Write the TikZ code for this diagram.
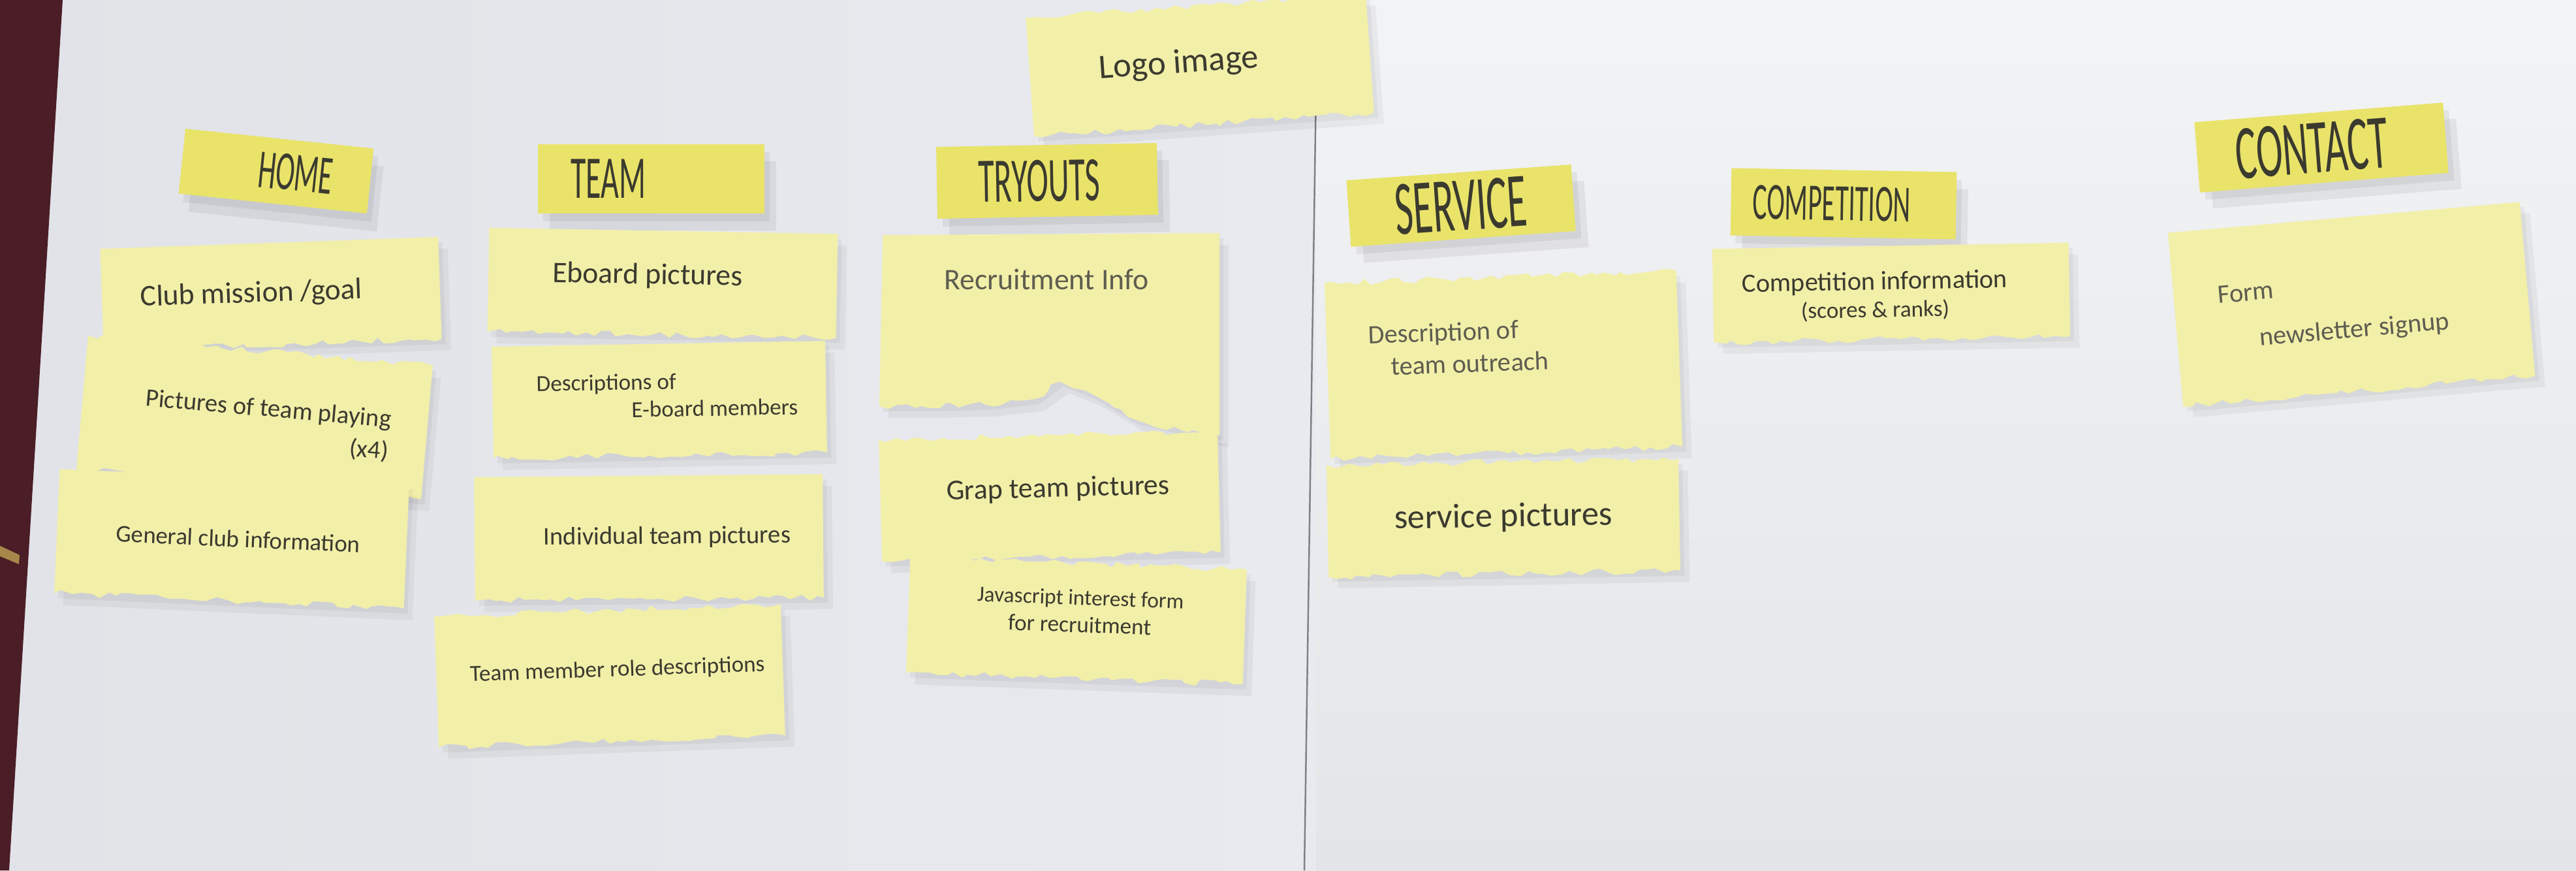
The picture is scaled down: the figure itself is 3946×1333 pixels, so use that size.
\documentclass[tikz,border=0pt]{standalone}
\usepackage{fontspec}
\setmainfont{Carlito}
\usetikzlibrary{decorations.pathmorphing}

\definecolor{paperleft}{HTML}{E8EAEF}
\definecolor{paperright}{HTML}{EAECEF}
\definecolor{board}{HTML}{4A1D27}
\definecolor{brass}{HTML}{A8884A}
\definecolor{tagyellow}{HTML}{E9E36A}
\definecolor{slipyellow}{HTML}{F2EFA9}
\definecolor{ink}{HTML}{3B3A2F}
\definecolor{pencil}{HTML}{5E5D50}
\definecolor{seam}{HTML}{808083}

\newcommand\fsz[2]{\fontsize{#1}{#2}\selectfont}

\tikzset{
  tornedge/.style={decoration={random steps,segment length=3.5pt,amplitude=1.4pt}},
  flatedge/.style={decoration={lineto}},
  slipshadow/.style={fill=black,opacity=0.045},
  tagshadow/.style={fill=black,opacity=0.06},
  slipfill/.style={fill=slipyellow},
  tagfill/.style={fill=tagyellow},
  sliptext/.style={text=ink,align=center,inner sep=0pt,transform shape},
  tagtext/.style={text=ink,inner sep=0pt,transform shape,xscale=0.62,yscale=1.2},
}

% torn paper slip: name, cx, cy, width, height, angle, top edge, text offset, text
\newcommand\slip[9]{%
  \begin{scope}[shift={(#2,#3)},rotate=#6]
    \fill[slipshadow] (-#4/2+6,-#5/2+8) rectangle (#4/2+6,#5/2+8);
    \fill[slipshadow] (-#4/2+14,-#5/2+18) rectangle (#4/2+14,#5/2+18);
    \fill[slipfill] (-#4/2,-#5/2) decorate[#7]{-- (#4/2,-#5/2)} -- (#4/2,#5/2)
      decorate[tornedge]{-- (-#4/2,#5/2)} -- cycle;
    \node[sliptext] (#1) at #8 {#9};
  \end{scope}}

% page heading tag: name, cx, cy, width, height, angle, text offset, text
\newcommand\tagslip[8]{%
  \begin{scope}[shift={(#2,#3)},rotate=#6]
    \fill[tagshadow] (-#4/2+8,-#5/2+12) rectangle (#4/2+8,#5/2+12);
    \fill[tagshadow] (-#4/2+18,-#5/2+26) rectangle (#4/2+18,#5/2+26);
    \fill[tagfill] (-#4/2,-#5/2) rectangle (#4/2,#5/2);
    \node[tagtext] (#1) at #7 {#8};
  \end{scope}}

\begin{document}
\begin{tikzpicture}[x=0.01cm,y=-0.01cm]
\pgfmathsetseed{11}
\useasboundingbox (0,0) rectangle (3946,1333);

% two sheets of paper on the board
\shade[left color=paperleft!97!black,right color=paperleft] (0,0) rectangle (2016,1333);
\shade[top color=paperright!60!white,bottom color=paperright!97!black] (2016,0) rectangle (3946,1333);
\fill[board] (0,0) -- (96,0) -- (14,1333) -- (0,1333) -- cycle;
\fill[brass] (0,836) -- (30,850) -- (29,864) -- (0,852) -- cycle;
\draw[seam,line width=0.7pt] (2018,0) -- (1998,1333);

% logo
\slip{logo}{1838}{100}{522}{182}{4}{tornedge}{(-32,-4)}{\fsz{15}{18}Logo image}

% page headings
\tagslip{home}{423}{262}{290}{100}{-6}{(30,0)}{\fsz{20}{24}HOME}
\tagslip{team}{997}{274}{347}{106}{0}{(-65,0)}{\fsz{22}{26}TEAM}
\tagslip{tryouts}{1604}{277}{338}{110}{1}{(-12,0)}{\fsz{23}{27}TRYOUTS}
\tagslip{service}{2238}{315}{345}{102}{4}{(0,0)}{\fsz{28}{32}SERVICE}
\tagslip{competition}{2824}{312}{345}{103}{-1}{(-18,0)}{\fsz{19}{23}COMPETITION}
\tagslip{contact}{3556}{226}{382}{108}{4.5}{(-15,0)}{\fsz{28}{32}CONTACT}

% HOME column
\slip{mission}{415}{450}{518}{156}{2}{flatedge}{(-30,0)}{\fsz{13}{15}Club mission /goal}
\slip{playing}{390}{639}{530}{205}{-5}{tornedge}{(20,12)}{\fsz{11}{14}\begin{tabular}{@{}r@{}}Pictures of team playing\\(x4)\end{tabular}}
\slip{general}{355}{825}{536}{190}{-2.5}{flatedge}{(10,0)}{\fsz{10.5}{13}General club information}

% TEAM column
\slip{eboardpics}{1015}{433}{534}{159}{-1}{flatedge}{(-23,-10)}{\fsz{13}{15}Eboard pictures}
\slip{eboarddesc}{1010}{612}{511}{171}{1}{flatedge}{(12,-3)}{\fsz{10}{12}\begin{tabular}{@{}l@{}}Descriptions of\\\hspace*{1.45cm}E-board members\end{tabular}}
\slip{individual}{994}{823}{534}{189}{0.5}{flatedge}{(28,0)}{\fsz{11}{13}Individual team pictures}
\slip{roles}{934}{1035}{531}{201}{2}{tornedge}{(12,-8)}{\fsz{10}{12}Team member role descriptions}

% TRYOUTS column: the recruitment slip has a deep tear along its bottom
\foreach \dx/\dy in {6/8,14/18}{
  \fill[slipshadow,shift={(\dx,\dy)}] (1352,360) -- (1868,357) -- (1868,667) -- (1812,660) -- (1737,642)
    -- (1674,604) -- (1623,584) -- (1586,611) -- (1510,620) -- (1410,622) -- (1347,622) -- cycle;}
\fill[slipfill] (1352,360) -- (1868,357) -- (1868,667)
  decorate[tornedge]{-- (1812,660) -- (1737,642) -- (1674,604) -- (1623,584) -- (1586,611) -- (1510,620) -- (1410,622) -- (1347,622)} -- cycle;
\node[sliptext,text=pencil] (recruit) at (1603,428) {\fsz{13}{15}Recruitment Info};
\slip{group}{1608}{760}{519}{186}{1.5}{tornedge}{(13,-10)}{\fsz{12.5}{15}Grap team pictures}
\slip{jsform}{1649}{951}{516}{176}{-2}{tornedge}{(5,-15)}{\fsz{9.5}{12}Javascript interest form\\for recruitment}

% SERVICE column
\slip{outreach}{2303}{559}{539}{269}{2}{tornedge}{(-68,-25)}{\fsz{11.5}{14}\color{pencil}\begin{tabular}{@{}l@{}}Description of\\\hspace*{0.33cm}team outreach\end{tabular}}
\slip{servicepics}{2303}{793}{539}{171}{1}{tornedge}{(0,0)}{\fsz{15}{18}service pictures}

% COMPETITION column
\slip{compinfo}{2897}{448}{546}{143}{1}{flatedge}{(-25,5)}{\fsz{11.5}{14}Competition information\\(scores \& ranks)}

% CONTACT column
\slip{form}{3602}{466}{541}{267}{5}{flatedge}{(-28,2)}{\fsz{11.5}{20}\color{pencil}\begin{tabular}{@{}l@{}}Form\\\hspace*{0.58cm}newsletter signup\end{tabular}}

\end{tikzpicture}
\end{document}
